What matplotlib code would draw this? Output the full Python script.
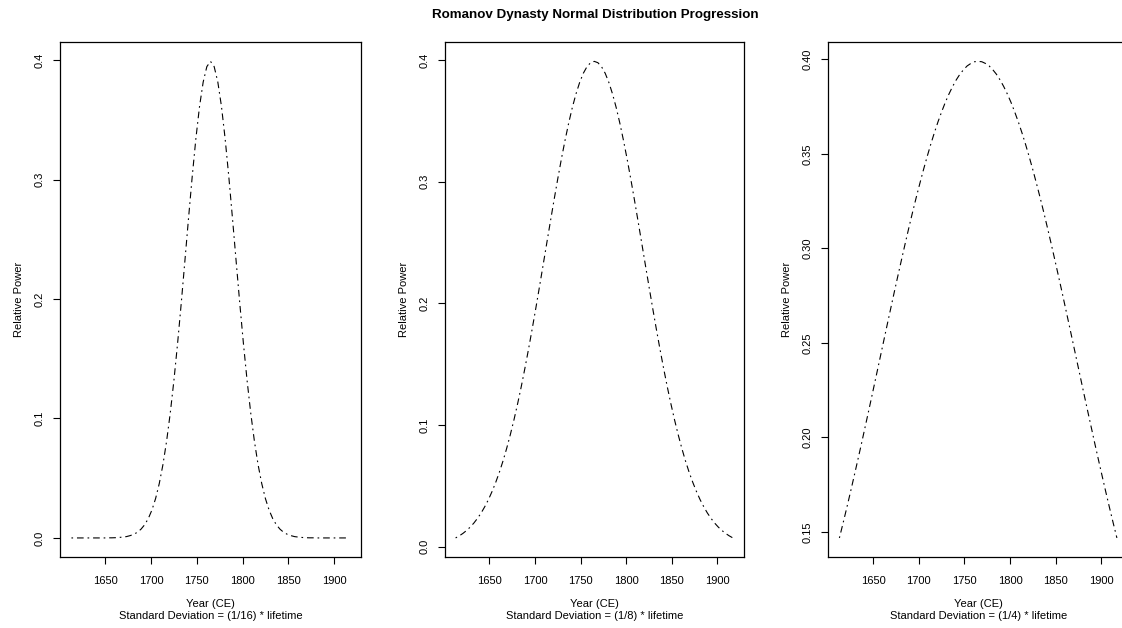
import matplotlib
matplotlib.use('Agg')
import matplotlib.pyplot as plt

plt.rcParams['font.family'] = ['Liberation Sans', 'DejaVu Sans']

# years of the Romanov dynasty, every 4 years (1613 - 1917)
years = list(range(1613, 1918, 4))

# relative power
power_16 = [0.0, 0.0, 0.0, 0.0, 0.0, 0.0, 0.0, 0.0, 0.0, 0.0,
            0.0001, 0.0001, 0.0002, 0.0004, 0.0007, 0.0011, 0.0019, 0.0030, 0.0047, 0.0073,
            0.0110, 0.0162, 0.0234, 0.0330, 0.0455, 0.0613, 0.0809, 0.1044, 0.1317, 0.1626,
            0.1963, 0.2318, 0.2677, 0.3024, 0.3341, 0.3611, 0.3816, 0.3945,
            0.3989,
            0.3945, 0.3816, 0.3611, 0.3341, 0.3024, 0.2677, 0.2318, 0.1963,
            0.1626, 0.1317, 0.1044, 0.0809, 0.0613, 0.0455, 0.0330, 0.0234, 0.0162, 0.0110,
            0.0073, 0.0047, 0.0030, 0.0019, 0.0011, 0.0007, 0.0004, 0.0002, 0.0001, 0.0001,
            0.0, 0.0, 0.0, 0.0, 0.0, 0.0, 0.0, 0.0, 0.0, 0.0]

power_8 = [0.0073, 0.0090, 0.0110, 0.0134, 0.0162, 0.0195, 0.0234, 0.0278, 0.0330, 0.0388,
           0.0455, 0.0530, 0.0613, 0.0706, 0.0809, 0.0922, 0.1044, 0.1176, 0.1317, 0.1468,
           0.1626, 0.1792, 0.1963, 0.2139, 0.2318, 0.2498, 0.2677, 0.2853, 0.3024, 0.3188,
           0.3341, 0.3483, 0.3611, 0.3722, 0.3816, 0.3891, 0.3945, 0.3978,
           0.3989,
           0.3978, 0.3945, 0.3891, 0.3816, 0.3722, 0.3611, 0.3483, 0.3341,
           0.3188, 0.3024, 0.2853, 0.2677, 0.2498, 0.2318, 0.2139, 0.1963, 0.1792, 0.1626,
           0.1468, 0.1317, 0.1176, 0.1044, 0.0922, 0.0809, 0.0706, 0.0613, 0.0530, 0.0455,
           0.0388, 0.0330, 0.0278, 0.0234, 0.0195, 0.0162, 0.0134, 0.0110, 0.0090, 0.0073]

power_4 = [0.1468, 0.1546, 0.1626, 0.1708, 0.1792, 0.1877, 0.1963, 0.2051, 0.2139, 0.2228,
           0.2318, 0.2408, 0.2498, 0.2588, 0.2677, 0.2766, 0.2853, 0.2939, 0.3024, 0.3107,
           0.3188, 0.3266, 0.3341, 0.3414, 0.3483, 0.3549, 0.3611, 0.3669, 0.3722, 0.3772,
           0.3816, 0.3856, 0.3891, 0.3921, 0.3945, 0.3965, 0.3978, 0.3987,
           0.3989,
           0.3987, 0.3978, 0.3965, 0.3945, 0.3921, 0.3891, 0.3856, 0.3816,
           0.3772, 0.3722, 0.3669, 0.3611, 0.3549, 0.3483, 0.3414, 0.3341, 0.3266, 0.3188,
           0.3107, 0.3024, 0.2939, 0.2853, 0.2766, 0.2677, 0.2588, 0.2498, 0.2408, 0.2318,
           0.2228, 0.2139, 0.2051, 0.1963, 0.1877, 0.1792, 0.1708, 0.1626, 0.1546, 0.1468]

series = [power_16, power_8, power_4]
fractions = ['(1/16)', '(1/8)', '(1/4)']
xticks = [1650, 1700, 1750, 1800, 1850, 1900]
yticks = [[0.0, 0.1, 0.2, 0.3, 0.4],
          [0.0, 0.1, 0.2, 0.3, 0.4],
          [0.15, 0.20, 0.25, 0.30, 0.35, 0.40]]
yfmt = ['%.1f', '%.1f', '%.2f']

W, H = 1122, 628
fig = plt.figure(figsize=(W / 100, H / 100), dpi=100)

# plot boxes in pixels: left, right (last one runs off the page like the original)
boxes = [(60.3, 360.7), (444.5, 744.0), (828.3, 1128.0)]
top, bottom = 42.3, 557.0

for i, (ys, frac) in enumerate(zip(series, fractions)):
    l, r = boxes[i]
    ax = fig.add_axes([l / W, (H - bottom) / H, (r - l) / W, (bottom - top) / H])
    ax.plot(years, ys, color='black', linewidth=0.8, dashes=(1.5, 3.5, 6, 3.5))
    span = years[-1] - years[0]
    ax.set_xlim(years[0] - 0.04 * span, years[-1] + 0.04 * span)
    ymin, ymax = min(ys), max(ys)
    ax.set_ylim(ymin - 0.04 * (ymax - ymin), ymax + 0.04 * (ymax - ymin))
    ax.set_xticks(xticks)
    ax.set_yticks(yticks[i])
    ax.set_yticklabels([yfmt[i] % v for v in yticks[i]], rotation=90, va='center')
    ax.tick_params(direction='out', length=5, width=0.8, labelsize=8, color='black')
    ax.tick_params(axis='x', pad=9)
    ax.tick_params(axis='y', pad=6)
    for s in ax.spines.values():
        s.set_linewidth(0.9)
        s.set_color('black')
    ax.set_xlabel('Year (CE)\nStandard Deviation = ' + frac + ' * lifetime',
                  fontsize=8, linespacing=1.25)
    ax.xaxis.set_label_coords(0.5, -0.082)
    ax.set_ylabel('Relative Power', fontsize=8)
    ax.yaxis.set_label_coords(-36.0 / 300.0, 0.5)

fig.text(595 / W, 1 - 15.0 / H, 'Romanov Dynasty Normal Distribution Progression',
         ha='center', va='center', fontsize=9.6, fontweight='bold')

fig.savefig('out.png', dpi=100)
